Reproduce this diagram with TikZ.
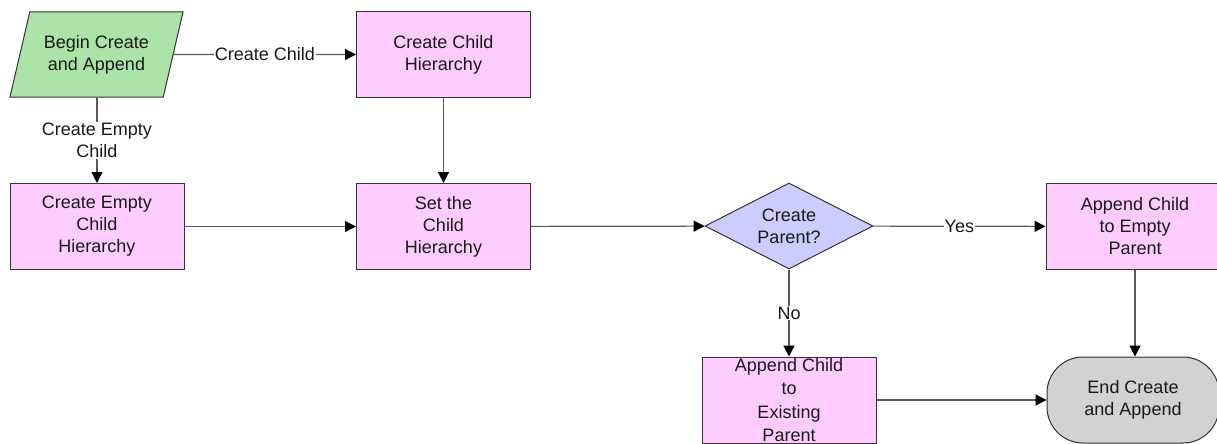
\documentclass[tikz,border=0pt]{standalone}
\usepackage{fontspec}
\setmainfont{Liberation Sans}
\usetikzlibrary{shapes.geometric,arrows.meta}
\definecolor{pinkfill}{HTML}{FFCCFF}
\definecolor{greenfill}{HTML}{ACE3A8}
\definecolor{bluefill}{HTML}{CCCCFF}
\definecolor{grayfill}{HTML}{D2D2D2}
\begin{document}
\begin{tikzpicture}[x=1pt,y=-1pt,
  txt/.style={font=\fontsize{18}{22}\selectfont, text=black!90, align=center},
  shp/.style={txt, draw=black!80, line width=1pt, inner sep=0pt},
  proc/.style={shp, fill=pinkfill, minimum width=174pt, minimum height=86pt},
  io/.style={shp, fill=greenfill, trapezium, trapezium left angle=63, trapezium right angle=117, trapezium stretches body, minimum width=173pt, minimum height=85pt},
  dec/.style={shp, fill=bluefill, diamond, aspect=2, minimum width=168pt, minimum height=86pt},
  term/.style={shp, fill=grayfill, rounded corners=36pt, minimum width=172pt, minimum height=86pt},
  conn/.style={draw=black!65, line width=1.2pt, -{Triangle[length=11pt,width=11pt,color=black]}},
  lbl/.style={txt, fill=white, inner sep=1pt}]
\useasboundingbox (0,0) rectangle (1217,444);
\clip (0,0) rectangle (1217,444);
\fill[white] (0,0) rectangle (1217,444);
\node[io] (begin) at (96.5,54.5) {Begin Create\\and Append};
\node[proc] (cch) at (443.5,54.5) {Create Child\\Hierarchy};
\node[proc] (ech) at (97,226.5) {Create Empty\\Child\\Hierarchy};
\node[proc] (sch) at (443.5,226.5) {Set the\\Child\\Hierarchy};
\node[dec] (dec) at (789,226) {Create\\Parent?};
\node[proc, minimum width=178pt] (aep) at (1135,226.5) {Append Child\\to Empty\\Parent};
\node[proc, font=\fontsize{18}{23.5}\selectfont] (aex) at (789,400) {Append Child\\to\\Existing\\Parent};
\node[term] (end) at (1133,400) {End Create\\and Append};
\draw[conn] (begin.east) -- node[lbl]{Create Child} (cch.west);
\draw[conn] (begin.south -| ech.north) -- node[lbl]{Create Empty\\Child} (ech.north);
\draw[conn] (cch) -- (sch);
\draw[conn] (ech) -- (sch);
\draw[conn] (sch) -- (dec);
\draw[conn] (dec) -- node[lbl]{Yes} (aep);
\draw[conn] (dec) -- node[lbl]{No} (aex);
\draw[conn] (aep) -- (aep |- end.north);
\draw[conn] (aex) -- (end);
\end{tikzpicture}
\end{document}
